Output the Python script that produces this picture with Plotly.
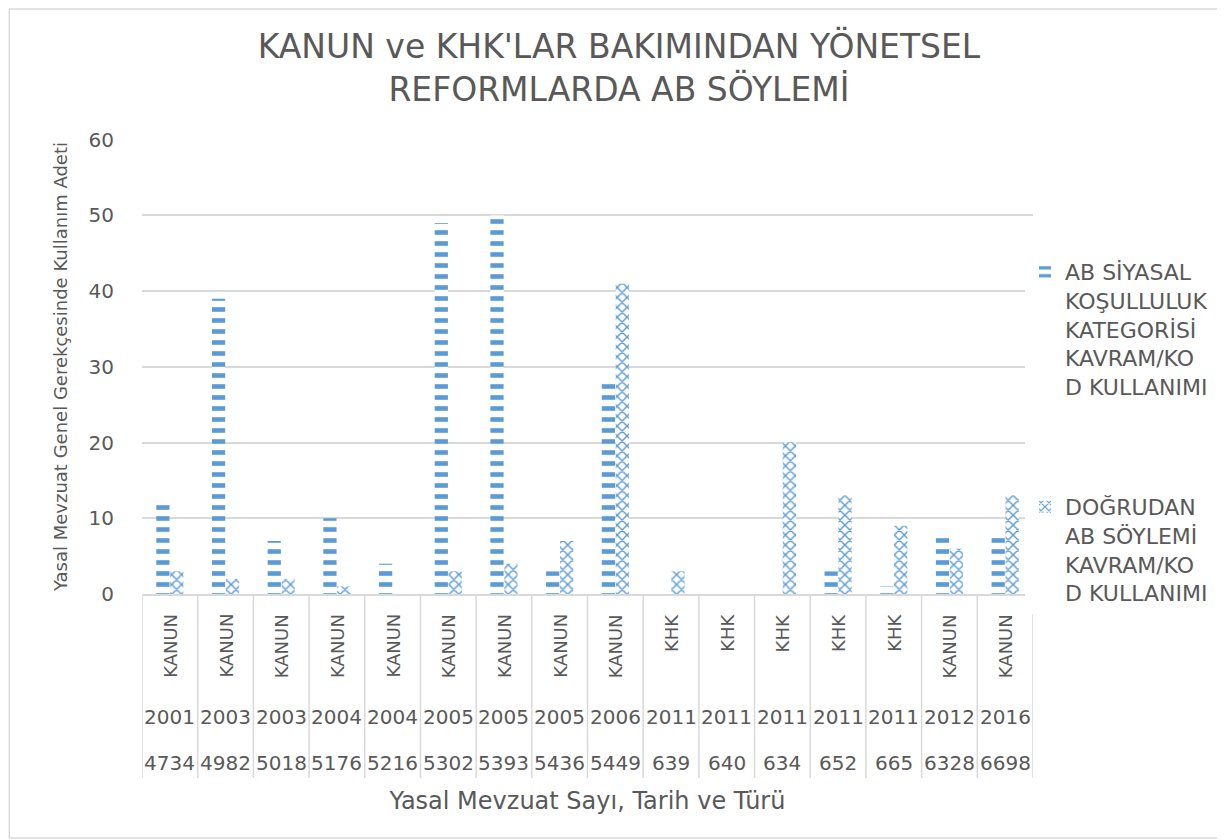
import plotly.graph_objects as go

# data
types = ["KANUN"] * 9 + ["KHK"] * 5 + ["KANUN"] * 2
years = ["2001", "2003", "2003", "2004", "2004", "2005", "2005", "2005", "2006",
         "2011", "2011", "2011", "2011", "2011", "2012", "2016"]
numbers = ["4734", "4982", "5018", "5176", "5216", "5302", "5393", "5436", "5449",
           "639", "640", "634", "652", "665", "6328", "6698"]
siyasal = [12, 39, 7, 10, 4, 49, 50, 3, 28, 0, 0, 0, 3, 1, 8, 8]
dogrudan = [3, 2, 2, 1, 0, 3, 4, 7, 41, 3, 0, 20, 13, 9, 6, 13]

name1 = "AB SİYASAL<br>KOŞULLULUK<br>KATEGORİSİ<br>KAVRAM/KO<br>D KULLANIMI"
name2 = "DOĞRUDAN<br>AB SÖYLEMİ<br>KAVRAM/KO<br>D KULLANIMI"

FONT = "DejaVu Sans"
GREY = "#595959"
BLUE = "#5B9BD5"
LINE = "#D9D9D9"

# page has an 8px body margin, so the figure is a bit smaller than the window
OFF = 8
W, H = 1225 - OFF, 840 - OFF
PL, PT, PR, PB = 142, 139, 1035, 594   # plot area in window pixels
L, T = PL - OFF, PT - OFF
R, B = W - (PR - OFF), H - (PB - OFF)
ph = PB - PT
pw = PR - PL


def py(p):  # window pixel row -> paper y
    return (PB - p) / ph


def px(p):  # window pixel column -> paper x
    return (p - PL) / pw


fig = go.Figure()
fig.add_trace(go.Bar(
    x=numbers, y=siyasal, name=name1, legendgroup="a",
    marker=dict(color=BLUE, line_width=0,
                pattern=dict(shape="-", size=11, solidity=0.42, fillmode="replace",
                             fgcolor=BLUE, bgcolor="white")),
))
fig.add_trace(go.Bar(
    x=numbers, y=dogrudan, name=name2, legendgroup="b",
    marker=dict(color=BLUE, line_width=0,
                pattern=dict(shape="x", size=7, solidity=0.36, fillmode="replace",
                             fgcolor=BLUE, bgcolor="white")),
))

# three-level category labels (type / year / number)
for i, n in enumerate(numbers):
    fig.add_annotation(x=i, y=py(612), xref="x", yref="paper", text=types[i],
                       textangle=-90, yanchor="top", showarrow=False,
                       font=dict(family=FONT, size=18, color=GREY))
    fig.add_annotation(x=i, y=py(717), xref="x", yref="paper", text=years[i],
                       yanchor="middle", showarrow=False,
                       font=dict(family=FONT, size=20, color=GREY))
    fig.add_annotation(x=i, y=py(763), xref="x", yref="paper", text=n,
                       yanchor="middle", showarrow=False,
                       font=dict(family=FONT, size=20, color=GREY))

for i in range(len(numbers) + 1):
    fig.add_shape(type="line", xref="x", yref="paper", x0=i - 0.5, x1=i - 0.5,
                  y0=0, y1=py(778), line=dict(color=LINE, width=1.5))

# outer chart border
fig.add_shape(type="rect", xref="paper", yref="paper", x0=px(9), x1=px(1224),
              y0=py(838), y1=py(9), line=dict(color=LINE, width=1.5))

fig.update_layout(
    width=W, height=H,
    margin=dict(l=L, r=R, t=T, b=B),
    paper_bgcolor="white", plot_bgcolor="white",
    font=dict(family=FONT, color=GREY),
    title=dict(text="KANUN ve KHK'LAR BAKIMINDAN YÖNETSEL<br>REFORMLARDA AB SÖYLEMİ",
               x=(619 - OFF) / W, xanchor="center", y=1 - 50 / H, yanchor="top",
               font=dict(family=FONT, size=33, color=GREY)),
    barmode="group", bargap=0.5, bargroupgap=0.05,
    showlegend=True,
    legend=dict(x=px(1027), y=py(251), xanchor="left", yanchor="top",
                traceorder="grouped", tracegroupgap=89, valign="top",
                font=dict(family=FONT, size=22, color=GREY)),
    xaxis=dict(type="category", categoryorder="array", categoryarray=numbers,
               range=[-0.5, len(numbers) - 0.5], automargin=False,
               showticklabels=False, showline=True, linecolor=LINE, linewidth=1.5,
               ticks="", showgrid=False,
               title=dict(text="Yasal Mevzuat Sayı, Tarih ve Türü", standoff=197,
                          font=dict(family=FONT, size=24, color=GREY))),
    yaxis=dict(range=[0, 60.1], dtick=10, showgrid=True, gridcolor=LINE, gridwidth=1.5,
               zeroline=False, ticks="", ticklabelstandoff=27, automargin=False,
               tickfont=dict(family=FONT, size=20, color=GREY),
               title=dict(text="Yasal Mevzuat Genel Gerekçesinde Kullanım Adeti", standoff=16,
                          font=dict(family=FONT, size=18, color=GREY))),
)

fig.write_html("out.html")
